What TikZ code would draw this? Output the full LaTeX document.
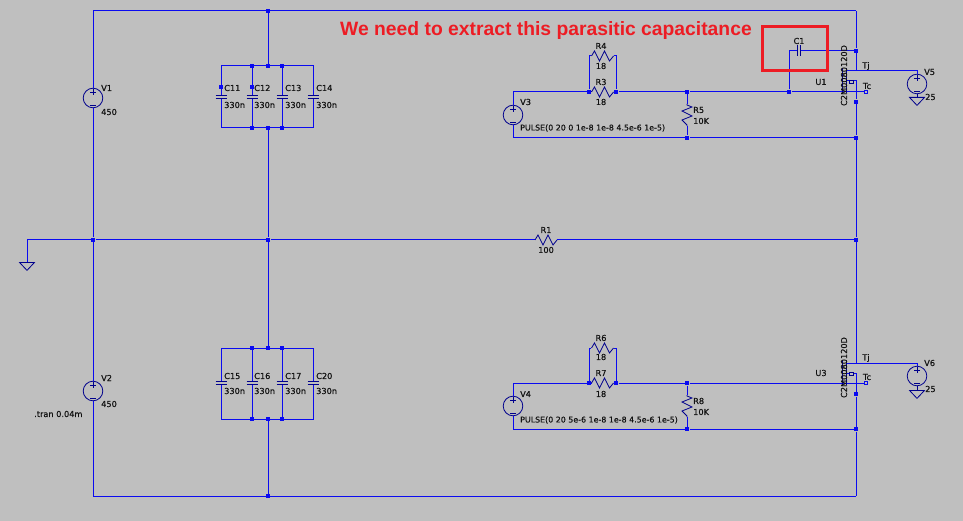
\documentclass[tikz,border=0pt]{standalone}
\usepackage{fontspec}
\setmainfont{DejaVu Sans}[FakeBold=0.35]
\newfontfamily\notefont{Liberation Sans}
\usetikzlibrary{positioning,shapes.geometric}
\definecolor{Panel}{HTML}{BFBFBF}
\definecolor{Wire}{HTML}{0A0AF0}
\definecolor{Part}{HTML}{00008C}
\definecolor{Note}{HTML}{ED1C24}
\definecolor{Ink}{HTML}{111111}

\begin{document}
\begin{tikzpicture}[x=1pt,y=-1pt,
  wire/.style={draw=Wire,line width=1pt},
  part/.style={draw=Part,line width=0.8pt},
  dot/.style={rectangle,fill=Wire,inner sep=0pt,minimum size=4.6pt},
  pt/.style={inner sep=0pt,minimum size=0pt},
  lbl/.style={inner sep=0pt,text=Ink,font=\fontsize{8.2}{9}\selectfont},
  tcpin/.style={rectangle,draw=Wire,fill=Panel,line width=0.9pt,inner sep=0pt,minimum size=3.6pt},
  supply/.style={circle,draw=Part,line width=0.8pt,inner sep=0pt,minimum size=19.6pt},
  earth/.style={isosceles triangle,shape border rotate=-90,isosceles triangle stretches,draw=Part,line width=0.8pt,inner sep=0pt,minimum width=15pt,minimum height=8pt},
  hres/.pic={\draw[part] (-11,0) -- (-8,-5) -- (-3,5) -- (2,-5) -- (7,5) -- (11,0);},
  vres/.pic={\draw[part] (0,-11) -- (0,-10) -- (5,-8) -- (-5,-4) -- (5,1) -- (-5,5) -- (0,10) -- (0,11);},
  vcap/.pic={\fill[Panel] (-6,-1) rectangle (6,1);\draw[part,line width=1pt] (-5.5,-1.2) -- (5.5,-1.2) (-5.5,1.2) -- (5.5,1.2);},
  hcap/.pic={\fill[Panel] (-1,-6) rectangle (1,6);\draw[part,line width=1pt] (-1.2,-5.5) -- (-1.2,5.5) (1.2,-5.5) -- (1.2,5.5);},
  sign/.pic={\draw[part] (-2.8,-6) -- (2.8,-6) (0,-8.6) -- (0,-3.4) (-2.8,7) -- (2.8,7);}
]
\fill[Panel] (0,0) rectangle (963,521);
\useasboundingbox (0,0) rectangle (963,521);

% outer frame and supplies
\node[pt] (tl) at (93,11) {};
\node[pt] (tr) at (856,11) {};
\node[pt] (bl) at (93,496) {};
\node[pt] (br) at (856,496) {};
\node[supply] (v1) at (93,98) {};
\node[supply] (v2) at (93,391) {};
\node[dot] (midl) at (93,240) {};
\node[dot] (midc) at (268,240) {};
\node[dot] (midr) at (856,240) {};
\node[dot] (topc) at (268,11) {};
\node[dot] (botc) at (268,496) {};
\node[pt] (gnd) at (27,240) {};
\node[earth,anchor=north] (gndsym) at (27,262) {};
\node[pt] (r1l) at (535,240) {};
\node[pt] (r1r) at (557,240) {};
\draw[wire] (tl) -- (tr);
\draw[wire] (bl) -- (br);
\draw[wire] (tl) -- (v1);
\draw[wire] (v1) -- (midl);
\draw[wire] (midl) -- (v2);
\draw[wire] (v2) -- (bl);
\draw[wire] (gndsym.north) -- (gnd.center) -- (midl);
\draw[wire] (midl) -- (midc);
\draw[wire] (midc) -- (r1l);
\draw[wire] (r1r) -- (midr);
\pic at (546,240) {hres};
\pic at (93,98) {sign};
\pic at (93,391) {sign};

% upper capacitor bank
\foreach \nm/\xx in {a/221,b/252,c/268,d/282,e/313}{
  \node[pt] (up\nm) at (\xx,66) {};
  \node[pt] (un\nm) at (\xx,128) {};
  \node[pt] (lp\nm) at (\xx,348) {};
  \node[pt] (ln\nm) at (\xx,419) {};
}
\draw[wire] (upa.center) -- (upe.center) -- (une.center) -- (una.center) -- cycle;
\draw[wire] (upb) -- (unb);
\draw[wire] (upd) -- (und);
\draw[wire] (topc) -- (upc);
\draw[wire] (unc) -- (midc);
\foreach \xx in {252,268,282}{\node[dot] at (\xx,66) {};\node[dot] at (\xx,128) {};}
\node[dot] at (221,87) {};
\node[dot] at (252,87) {};
\foreach \xx in {221,252,282,313}{\pic at (\xx,97) {vcap};}
\node[lbl,anchor=west] at (224,88) {C11};
\node[lbl,anchor=west] at (254,88) {C12};
\node[lbl,anchor=west] at (285,88) {C13};
\node[lbl,anchor=west] at (316,88) {C14};
\foreach \xx in {224,254,285,316}{\node[lbl,anchor=west] at (\xx,105) {330n};}

% lower capacitor bank
\draw[wire] (lpa.center) -- (lpe.center) -- (lne.center) -- (lna.center) -- cycle;
\draw[wire] (lpb) -- (lnb);
\draw[wire] (lpd) -- (lnd);
\draw[wire] (midc) -- (lpc);
\draw[wire] (lnc) -- (botc);
\foreach \xx in {252,268,282}{\node[dot] at (\xx,348) {};\node[dot] at (\xx,419) {};}
\foreach \xx in {221,252,282,313}{\pic at (\xx,383) {vcap};}
\node[lbl,anchor=west] at (224,376) {C15};
\node[lbl,anchor=west] at (254,376) {C16};
\node[lbl,anchor=west] at (285,376) {C17};
\node[lbl,anchor=west] at (316,376) {C20};
\foreach \xx in {224,254,285,316}{\node[lbl,anchor=west] at (\xx,391) {330n};}

% upper gate drive
\node[supply] (v3) at (513,115) {};
\node[pt] (v3t) at (513,92) {};
\node[pt] (v3b) at (513,138) {};
\node[dot] (r3l) at (589,92) {};
\node[dot] (r3r) at (616,92) {};
\node[pt] (r3a) at (591.5,92) {};
\node[pt] (r3b) at (613.5,92) {};
\node[pt] (r4l) at (589,56) {};
\node[pt] (r4r) at (616,56) {};
\node[pt] (r4a) at (591.5,56) {};
\node[pt] (r4b) at (613.5,56) {};
\node[dot] (r5t) at (687,92) {};
\node[dot] (r5b) at (687,138) {};
\node[pt] (r5a) at (687,104) {};
\node[pt] (r5c) at (687,126) {};
\node[dot] (c1b) at (789,92) {};
\node[pt] (c1t) at (789,51) {};
\node[dot] (c1r) at (856,51) {};
\node[dot] (srcu) at (856,102) {};
\node[dot] (botu) at (856,138) {};
\node[tcpin] (tcu) at (866,92) {};
\draw[wire] (v3) -- (v3t.center) -- (r3l);
\draw[wire] (v3) -- (v3b.center) -- (r5b);
\draw[wire] (r5b) -- (botu);
\draw[wire] (r3l) -- (r3a);
\draw[wire] (r3b) -- (r3r);
\draw[wire] (r3l) -- (r4l.center) -- (r4a);
\draw[wire] (r4b) -- (r4r.center) -- (r3r);
\draw[wire] (r3r) -- (r5t);
\draw[wire] (r5t) -- (c1b);
\draw[wire] (c1b) -- (tcu);
\draw[wire] (r5t) -- (r5a);
\draw[wire] (r5c) -- (r5b);
\draw[wire] (c1b) -- (c1t.center) -- (c1r);
\pic at (602.5,92) {hres};
\pic at (602.5,56) {hres};
\pic at (687,115) {vres};
\pic at (799,51) {hcap};
\pic at (513,115) {sign};
\node[lbl] at (601,46) {R4};
\node[lbl] at (601,66) {18};
\node[lbl] at (601,82) {R3};
\node[lbl] at (601,102) {18};
\node[lbl,anchor=west] at (520,102) {V3};
\node[lbl,anchor=west] at (693,110) {R5};
\node[lbl,anchor=west] at (693,121) {10K};
\node[lbl,anchor=west,font=\fontsize{7.9}{9}\selectfont] at (520,128) {PULSE(0 20 0 1e-8 1e-8 4.5e-6 1e-5)};
\node[lbl] at (799,41) {C1};
\node[lbl] at (821,82) {U1};

% upper device
\node[pt] (dru) at (856,71) {};
\node[pt] (sru) at (856,81) {};
\node[pt] (bdu) at (846,71) {};
\node[pt] (bsu) at (846,81) {};
\node[supply] (v5) at (917,84) {};
\node[pt] (tj5) at (917,71) {};
\node[earth,anchor=north] (g5) at (917,97) {};
\draw[wire] (tr) -- (c1r);
\draw[wire] (c1r) -- (dru.center) -- (bdu.center);
\draw[wire] (dru.center) -- (tj5.center) -- (v5);
\draw[wire] (bsu.center) -- (sru.center) -- (srcu);
\draw[wire] (srcu) -- (botu);
\draw[wire] (botu) -- (midr);
\draw[part] (v5) -- (g5.north);
\draw[part] (846,68) -- (846,93) (842,68) -- (842,93);
\draw[part,fill=Panel] (849,80) rectangle (853,83);
\pic at (917,84) {sign};
\node[lbl,rotate=90] (partu) at (844,75.5) {C2M0080120D};
\node[lbl] at (866,66) {Tj};
\node[lbl] at (867,86) {Tc};
\node[lbl,anchor=west] at (924,72) {V5};
\node[lbl,anchor=west] at (925,97) {25};

% lower gate drive
\node[supply] (v4) at (513,406) {};
\node[pt] (v4t) at (513,383) {};
\node[pt] (v4b) at (513,429) {};
\node[dot] (r7l) at (589,383) {};
\node[dot] (r7r) at (616,383) {};
\node[pt] (r7a) at (591.5,383) {};
\node[pt] (r7b) at (613.5,383) {};
\node[pt] (r6l) at (589,348) {};
\node[pt] (r6r) at (616,348) {};
\node[pt] (r6a) at (591.5,348) {};
\node[pt] (r6b) at (613.5,348) {};
\node[dot] (r8t) at (687,383) {};
\node[dot] (r8b) at (687,429) {};
\node[pt] (r8a) at (687,395) {};
\node[pt] (r8c) at (687,417) {};
\node[dot] (srcl) at (856,394) {};
\node[dot] (botl) at (856,429) {};
\node[tcpin] (tcl) at (866,383) {};
\draw[wire] (v4) -- (v4t.center) -- (r7l);
\draw[wire] (v4) -- (v4b.center) -- (r8b);
\draw[wire] (r8b) -- (botl);
\draw[wire] (r7l) -- (r7a);
\draw[wire] (r7b) -- (r7r);
\draw[wire] (r7l) -- (r6l.center) -- (r6a);
\draw[wire] (r6b) -- (r6r.center) -- (r7r);
\draw[wire] (r7r) -- (r8t);
\draw[wire] (r8t) -- (tcl);
\draw[wire] (r8t) -- (r8a);
\draw[wire] (r8c) -- (r8b);
\pic at (602.5,383) {hres};
\pic at (602.5,348) {hres};
\pic at (687,406) {vres};
\pic at (513,406) {sign};
\node[lbl] at (601,338) {R6};
\node[lbl] at (601,357) {18};
\node[lbl] at (601,373) {R7};
\node[lbl] at (601,394) {18};
\node[lbl,anchor=west] at (520,394) {V4};
\node[lbl,anchor=west] at (693,401) {R8};
\node[lbl,anchor=west] at (693,412) {10K};
\node[lbl,anchor=west,font=\fontsize{7.9}{9}\selectfont] at (520,420) {PULSE(0 20 5e-6 1e-8 1e-8 4.5e-6 1e-5)};
\node[lbl] at (821,373) {U3};

% lower device
\node[pt] (drl) at (856,363) {};
\node[pt] (srl) at (856,373) {};
\node[pt] (bdl) at (846,363) {};
\node[pt] (bsl) at (846,373) {};
\node[supply] (v6) at (917,376) {};
\node[pt] (tj6) at (917,363) {};
\node[earth,anchor=north] (g6) at (917,390) {};
\draw[wire] (midr) -- (drl.center) -- (bdl.center);
\draw[wire] (drl.center) -- (tj6.center) -- (v6);
\draw[wire] (bsl.center) -- (srl.center) -- (srcl);
\draw[wire] (srcl) -- (botl);
\draw[wire] (botl) -- (br);
\draw[part] (v6) -- (g6.north);
\draw[part] (846,360) -- (846,385) (842,360) -- (842,385);
\draw[part,fill=Panel] (849,372) rectangle (853,375);
\pic at (917,376) {sign};
\node[lbl,rotate=90] (partl) at (844,367.5) {C2M0080120D};
\node[lbl] at (866,358) {Tj};
\node[lbl] at (867,377) {Tc};
\node[lbl,anchor=west] at (924,363) {V6};
\node[lbl,anchor=west] at (925,389) {25};

% source and resistor labels
\node[lbl,anchor=west] at (101,88) {V1};
\node[lbl,anchor=west] at (101,112) {450};
\node[lbl,anchor=west] at (101,378) {V2};
\node[lbl,anchor=west] at (101,404) {450};
\node[lbl,anchor=west] at (34,414) {.tran 0.04m};
\node[lbl] at (546,230) {R1};
\node[lbl] at (546,250) {100};

% annotation
\node[draw=Note,line width=3pt,minimum width=65pt,minimum height=44pt,inner sep=0pt] (mark) at (794.5,49) {};
\node[inner sep=0pt,text=Note,font=\notefont\bfseries\fontsize{19.3}{21}\selectfont] (notetext) at (546,31) {We need to extract this parasitic capacitance};
\end{tikzpicture}
\end{document}
